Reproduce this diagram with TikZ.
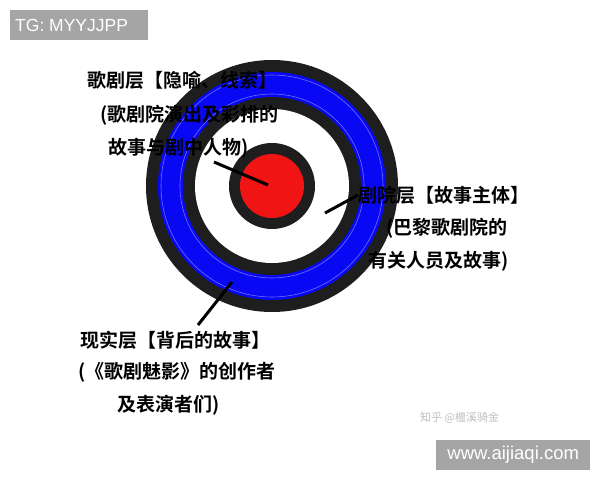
\documentclass[tikz,border=0pt]{standalone}
\usepackage{fontspec}
\setmainfont{Liberation Sans}
\newfontfamily\cjk{Noto Sans CJK SC}[BoldFont={Noto Sans CJK SC Bold}]
\definecolor{ringdark}{HTML}{1E1E1E}
\definecolor{ringblue}{HTML}{0808F5}
\definecolor{ringline}{HTML}{6E6EFF}
\definecolor{redcore}{HTML}{F01414}
\definecolor{tagbg}{HTML}{A5A5A5}
\begin{document}
\begin{tikzpicture}[x=1pt,y=-1pt,
  lbl/.style={anchor=west,inner sep=0pt,font=\cjk\bfseries\fontsize{19}{19}\selectfont,text=black},
  ptr/.style={line width=3pt,black},
  tag/.style={fill=tagbg,text=white,inner sep=0pt}]
\useasboundingbox (0,0) rectangle (600,480);
\fill[white] (0,0) rectangle (600,480);
% target
\coordinate (c) at (272,186);
\fill[ringdark] (c) circle (126);
\fill[ringblue] (c) circle (114);
\draw[ringline,line width=0.6pt] (c) circle (111);
\draw[ringline,line width=0.6pt] (c) circle (92);
\fill[ringdark] (c) circle (89);
\fill[white] (c) circle (77);
\fill[ringdark] (c) circle (43);
\fill[redcore] (c) circle (32);
% labels
\node[lbl] (a1) at (87,80) {歌剧层【隐喻、线索】};
\node[lbl] (a2) at (100,115) {(歌剧院演出及彩排的};
\node[lbl] (a3) at (108,148) {故事与剧中人物)};
\node[lbl] (b1) at (358,195) {剧院层【故事主体】};
\node[lbl] (b2) at (386,228) {(巴黎歌剧院的};
\node[lbl] (b3) at (368,261) {有关人员及故事)};
\node[lbl] (c1) at (80,340) {现实层【背后的故事】};
\node[lbl] (c2) at (78,372) {(《歌剧魅影》的创作者};
\node[lbl] (c3) at (117,405) {及表演者们)};
% pointers
\coordinate (p1s) at (214,162);
\coordinate (p1e) at (268,185);
\draw[ptr] (p1s) -- (p1e);
\coordinate (p2s) at (325,213);
\draw[ptr] (p2s) -- (b1.west);
\coordinate (p3s) at (232,282);
\coordinate (p3e) at (198,325);
\draw[ptr] (p3s) -- (p3e);
% watermark and tags
\node[anchor=west,inner sep=0pt,text=black!25,font=\cjk\fontsize{11}{11}\selectfont] (wm) at (420,418) {知乎 @檀溪骑金};
\node[tag,minimum width=138,minimum height=30,anchor=north west,font=\fontsize{17.5}{17.5}\selectfont] (tg) at (10,10) {};
\node[anchor=west,inner sep=0pt,text=white,font=\fontsize{17.5}{17.5}\selectfont] (tgt) at (15,25) {TG: MYYJJPP};
\node[tag,minimum width=154,minimum height=30,anchor=north west,font=\fontsize{18.5}{18.5}\selectfont] (web) at (436,440) {www.aijiaqi.com};
\end{tikzpicture}
\end{document}
